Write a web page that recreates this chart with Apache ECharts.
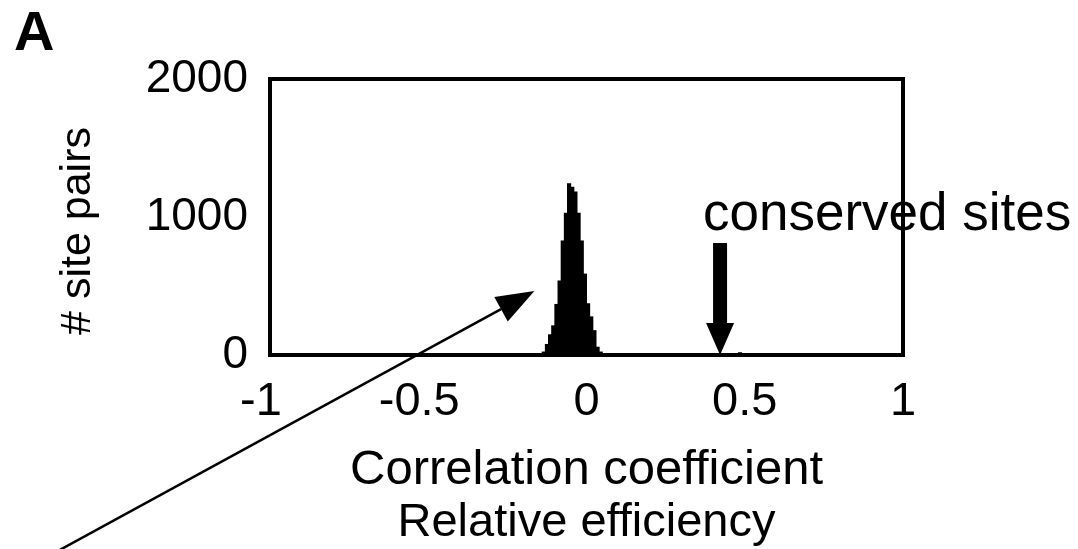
<!DOCTYPE html>
<html><head><meta charset="utf-8">
<script src="https://cdn.jsdelivr.net/npm/echarts@6/dist/echarts.min.js"></script>
<style>html,body{margin:0;padding:0;background:#fff}#c{width:1078px;height:549px}</style>
</head><body><div id="c"></div>
<script>
// Histogram bins (left edges) and counts
const binStarts = [-0.14,-0.13,-0.12,-0.11,-0.10,-0.09,-0.08,-0.07,-0.06,-0.05,-0.04,-0.03,-0.02,-0.01,0.00,0.01,0.02,0.03,0.04,0.05,0.48];
const binCounts = [25,80,150,215,370,540,830,1030,1245,1220,1185,1030,830,590,375,280,180,60,25,10,20];
const binWidth = 0.01;
const xTickValues = [-1,-0.5,0,0.5,1];
const yTickValues = [0,1000,2000];
// annotations (data coordinates)
const conservedArrow = [0.422, 812];          // x, top of arrow
const pointerArrow = [[-1.75,-1520],[-0.1646,464]]; // tail, tip
const FONT = "'Liberation Sans', Arial, Helvetica, sans-serif";

const chart = echarts.init(document.getElementById('c'), null, {renderer:'canvas'});
const histData = binStarts.map((s,i)=>[s, s+binWidth, binCounts[i]]);

chart.setOption({
  animation:false,
  backgroundColor:'#fff',
  title:{text:'A', left:14, top:7, padding:0, textStyle:{fontFamily:FONT, fontWeight:'bold', fontSize:56, color:'#000'}},
  grid:{left:270, right:175, top:79, bottom:194, outerBoundsMode:'none', containLabel:false,
        show:true, borderColor:'#000', borderWidth:4, backgroundColor:'transparent'},
  xAxis:{type:'value', min:-1, max:1, interval:0.5,
    axisLine:{show:true, onZero:false, lineStyle:{color:'#000', width:4}},
    axisTick:{show:false}, splitLine:{show:false},
    axisLabel:{color:'#000', fontFamily:FONT, fontSize:47, margin:24,
      formatter:v=> xTickValues.includes(v)? (v<0? '{n|'+v+'}' : String(v)) : '',
      rich:{n:{fontFamily:FONT, fontSize:47, color:'#000', padding:[0,18,0,0]}}},
    name:'{a|Correlation coefficient}\n{b|Relative efficiency}',
    nameLocation:'middle', nameGap:88,
    nameTextStyle:{color:'#000', fontFamily:FONT,
      rich:{a:{fontSize:49, fontFamily:FONT, color:'#000', lineHeight:54},
            b:{fontSize:47, fontFamily:FONT, color:'#000', lineHeight:52}}}
  },
  yAxis:{type:'value', min:0, max:2000, interval:1000,
    axisLine:{show:true, onZero:false, lineStyle:{color:'#000', width:4}},
    axisTick:{show:false}, splitLine:{show:false},
    axisLabel:{color:'#000', fontFamily:FONT, fontSize:46, margin:22,
      formatter:v=> yTickValues.includes(v)? String(v):''}
  },
  graphic:[
    {type:'text', x:78, y:231, rotation:Math.PI/2,
     style:{text:'# site pairs', fontFamily:FONT, fontSize:43, fill:'#000', align:'center', verticalAlign:'middle'}},
    {type:'text', left:703, top:189, style:{text:'conserved sites', fontFamily:FONT, fontSize:53, fill:'#000'}}
  ],
  series:[
    {type:'custom', name:'hist', clip:false,
     encode:{x:[0,1], y:2},
     data:histData,
     renderItem:(params, api)=>{
       const p0 = api.coord([api.value(0), 0]);
       const p1 = api.coord([api.value(1), api.value(2)]);
       return {type:'rect', shape:{x:p0[0]-0.5, y:p1[1], width:p1[0]-p0[0]+1, height:p0[1]-p1[1]},
         style:{fill:'#000'}};
     }},
    {type:'custom', name:'conserved', clip:false,
     data:[conservedArrow],
     renderItem:(params, api)=>{
       const top = api.coord([api.value(0), api.value(1)]);
       const base = api.coord([api.value(0), 0]);
       const headH = 32, headW = 28, shaftW = 14;
       return {type:'group', children:[
         {type:'rect', shape:{x:top[0]-shaftW/2, y:top[1], width:shaftW, height:base[1]-headH-top[1]+1}, style:{fill:'#000'}},
         {type:'polygon', shape:{points:[[top[0]-headW/2, base[1]-headH],[top[0]+headW/2, base[1]-headH],[top[0], base[1]]]}, style:{fill:'#000'}}
       ]};
     }},
    {type:'custom', name:'pointer', clip:false,
     data:[[pointerArrow[0][0], pointerArrow[0][1], pointerArrow[1][0], pointerArrow[1][1]]],
     renderItem:(params, api)=>{
       const a = api.coord([api.value(0), api.value(1)]);
       const b = api.coord([api.value(2), api.value(3)]);
       const dx=b[0]-a[0], dy=b[1]-a[1], L=Math.hypot(dx,dy), ux=dx/L, uy=dy/L;
       const hl=38, hw=14;
       const bx=b[0]-ux*hl, by=b[1]-uy*hl;
       return {type:'group', children:[
         {type:'line', shape:{x1:a[0], y1:a[1], x2:bx, y2:by}, style:{stroke:'#000', lineWidth:2.5}},
         {type:'polygon', shape:{points:[[b[0],b[1]],[bx-uy*hw, by+ux*hw],[bx+uy*hw, by-ux*hw]]}, style:{fill:'#000'}}
       ]};
     }}
  ]
});
</script></body></html>
